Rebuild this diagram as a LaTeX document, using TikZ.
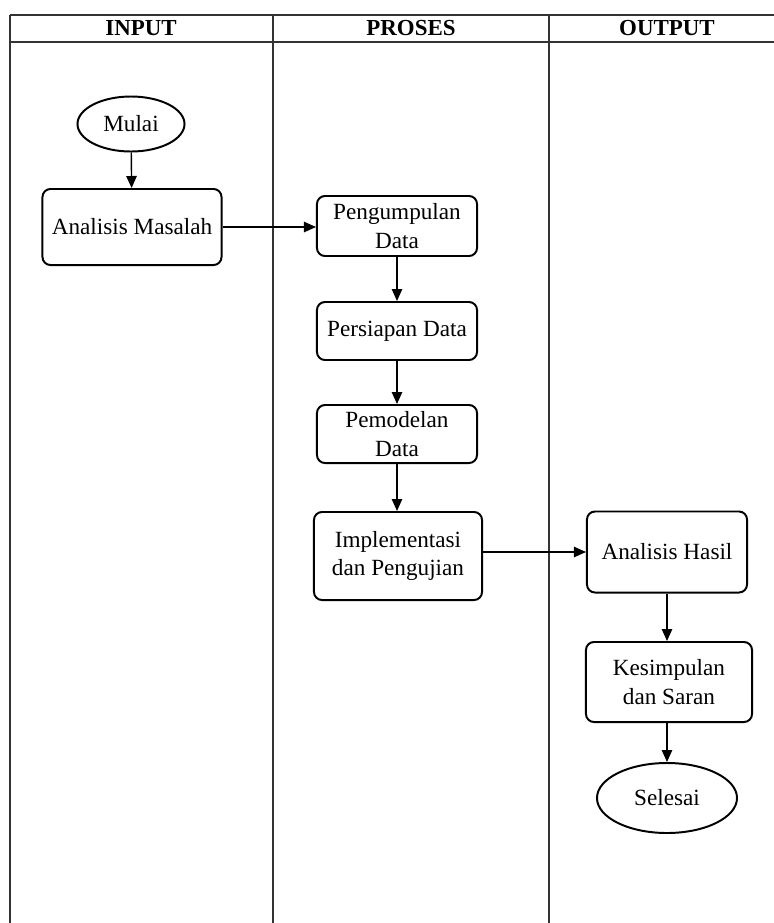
\documentclass[tikz,border=0pt]{standalone}
\usepackage{fontspec}
\setmainfont{Liberation Serif}[UprightFont=*, BoldFont=* Bold, ItalicFont=* Italic]
\usetikzlibrary{arrows.meta,shapes.geometric}

\begin{document}
\begin{tikzpicture}[
  x=0.025cm, y=-0.025cm,
  font=\rmfamily\fontsize{16.5}{20}\selectfont,
  lane/.style={line width=1pt, draw=black!80},
  head/.style={font=\rmfamily\fontsize{16.3}{20}\selectfont\bfseries},
  box/.style={draw, line width=1.4pt, rounded corners=0.2cm, align=center, inner sep=2pt},
  term/.style={draw, ellipse, line width=1.4pt, inner sep=0pt},
  arrow/.style={-{Triangle[length=3mm, width=2.6mm]}, line width=1pt}
]
\useasboundingbox (0,0) rectangle (774,923);

% swimlanes
\draw[lane] (10,15) -- (774,15);
\draw[lane] (10,42) -- (774,42);
\draw[lane] (10,15) -- (10,923);
\draw[lane] (273,15) -- (273,923);
\draw[lane] (549,15) -- (549,923);
\node[head] (hin) at (141,28.5) {INPUT};
\node[head] (hpro) at (411,28.5) {PROSES};
\node[head] (hout) at (667,28.5) {OUTPUT};

% input
\node[term, minimum width=2.675cm, minimum height=1.375cm] (mulai) at (131,124) {Mulai};
\node[box, minimum width=4.475cm, minimum height=1.9cm] (masalah) at (132,227) {Analisis Masalah};

% proses
\node[box, minimum width=4cm, minimum height=1.5cm] (kumpul) at (397,226) {Pengumpulan\\Data};
\node[box, minimum width=4cm, minimum height=1.45cm] (siap) at (397,331) {Persiapan Data};
\node[box, minimum width=4cm, minimum height=1.45cm] (model) at (397,434) {Pemodelan\\Data};
\node[box, minimum width=4.2cm, minimum height=2.2cm] (impl) at (398,556) {Implementasi\\dan Pengujian};

% output
\node[box, minimum width=4cm, minimum height=2.025cm] (hasil) at (667,552) {Analisis Hasil};
\node[box, minimum width=4.15cm, minimum height=2cm] (simpul) at (669,682) {Kesimpulan\\dan Saran};
\node[term, minimum width=3.5cm, minimum height=1.75cm] (selesai) at (667,798) {Selesai};

\draw[arrow] (mulai) -- (masalah);
\draw[arrow] (masalah.east) -- (masalah.east -| kumpul.west);
\draw[arrow] (kumpul) -- (siap);
\draw[arrow] (siap) -- (model);
\draw[arrow] (model) -- (model |- impl.north);
\draw[arrow] (impl.east |- hasil.west) -- (hasil.west);
\draw[arrow] (hasil.south) -- (hasil.south |- simpul.north);
\draw[arrow] (simpul.south -| selesai) -- (selesai);
\end{tikzpicture}
\end{document}
